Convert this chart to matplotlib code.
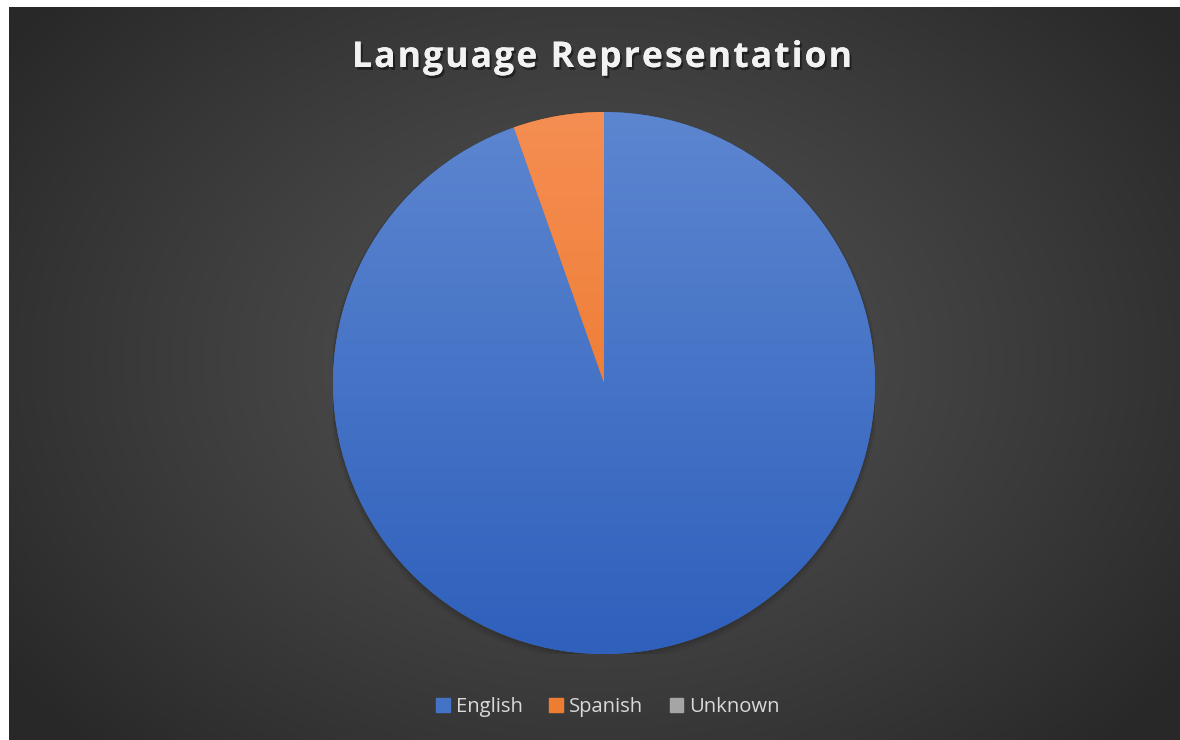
import numpy as np
import matplotlib
matplotlib.use("Agg")
import matplotlib.pyplot as plt
from matplotlib.colors import LinearSegmentedColormap
import matplotlib.patheffects as pe
from matplotlib.patches import Rectangle, Circle, PathPatch
from matplotlib.textpath import TextPath
from matplotlib.transforms import Affine2D
from matplotlib.font_manager import FontProperties, findfont, get_font

categories = ["English", "Spanish", "Unknown"]
values = [94.6, 5.4, 0.0]
title_text = "Language Representation"

W, H = 1180, 740
fig = plt.figure(figsize=(W / 100, H / 100), dpi=100)
fig.patch.set_facecolor("white")

# background with radial gradient
bx0 = 9 / W
bg = fig.add_axes([bx0, 0, 1 - bx0, (H - 7) / H])
bg.set_axis_off()
ny, nx = 300, 480
yy, xx = np.mgrid[0:ny, 0:nx]
cx, cy = nx * 0.5, ny * 0.48
r = np.sqrt(((xx - cx) / (nx * 0.62)) ** 2 + ((yy - cy) / (ny * 0.75)) ** 2)
r = np.clip(r, 0, 1)
c0 = np.array([0x52, 0x52, 0x52]) / 255
c1 = np.array([0x28, 0x28, 0x28]) / 255
img = c0[None, None, :] * (1 - r[..., None] ** 1.2) + c1[None, None, :] * (r[..., None] ** 1.2)
bg.imshow(img, extent=(0, 1, 0, 1), aspect="auto", interpolation="bicubic")
bg.set_xlim(0, 1)
bg.set_ylim(0, 1)

# pie axes
pcx, pcy, pr = 604, 383, 271
ax = fig.add_axes([(pcx - pr) / W, (H - pcy - pr) / H, 2 * pr / W, 2 * pr / H])
ax.set_axis_off()

base_colors = ["#4472C4", "#ED7D31", "#A5A5A5"]
grads = [("#5D86D0", "#2E60BC"), ("#F58E52", "#E8701F"), ("#B5B5B5", "#959595")]

# soft shadow
for k, a in enumerate([0.07, 0.05, 0.04]):
    ax.add_patch(Circle((0, -0.005 * (k + 1)), 1 + 0.005 * (k + 1), color="black", alpha=a, zorder=0, lw=0))

wedges, _ = ax.pie(values, colors=base_colors, startangle=90, counterclock=False,
                   radius=1, wedgeprops=dict(linewidth=0))
grad = np.linspace(1, 0, 256)[:, None]
for w, (ctop, cbot) in zip(wedges, grads):
    cmap = LinearSegmentedColormap.from_list("g", [cbot, ctop])
    im = ax.imshow(grad, extent=(-1, 1, -1, 1), cmap=cmap, aspect="auto",
                   interpolation="bicubic", zorder=2, origin="upper")
    im.set_clip_path(w)
ax.set_xlim(-1.0, 1.0)
ax.set_ylim(-1.0, 1.0)

# title with letter spacing (drawn as text paths)
prop = FontProperties(family="Open Sans", weight="bold")
size_px = 35.5
font = get_font(findfont(prop))
font.set_size(size_px, 72)
advs = [font.load_char(ord(ch)).linearHoriAdvance / 65536 for ch in title_text]
target_w = 500
natural = sum(advs)
sp = (target_w - natural) / (len(title_text) - 1)
x = 602 - target_w / 2
baseline = H - 67
verts, codes = [], []
from matplotlib.path import Path
paths = []
for ch, a in zip(title_text, advs):
    if ch != " ":
        tp = TextPath((x, baseline), ch, size=size_px, prop=prop)
        paths.append(tp)
    x += a + sp
title_path = Path.make_compound_path(*paths)
tpatch = PathPatch(title_path, facecolor="#F2F2F2", edgecolor="none",
                   transform=Affine2D().scale(1 / W, 1 / H) + fig.transFigure,
                   path_effects=[pe.withSimplePatchShadow(offset=(1.5, -2), shadow_rgbFace="black", alpha=0.45),
                                 pe.Normal()])
fig.add_artist(tpatch)

# legend
handles = [Rectangle((0, 0), 1, 1, color=c) for c in base_colors]
leg = fig.legend(handles, categories, loc="center", bbox_to_anchor=(608 / W, 1 - 707 / H),
                 ncol=3, frameon=False, labelcolor="#D9D9D9",
                 handlelength=0.68, handleheight=0.68, handletextpad=0.3, columnspacing=1.3,
                 prop=dict(family="Open Sans", size=14.6))

fig.savefig("out.png", dpi=100, facecolor=fig.get_facecolor())
